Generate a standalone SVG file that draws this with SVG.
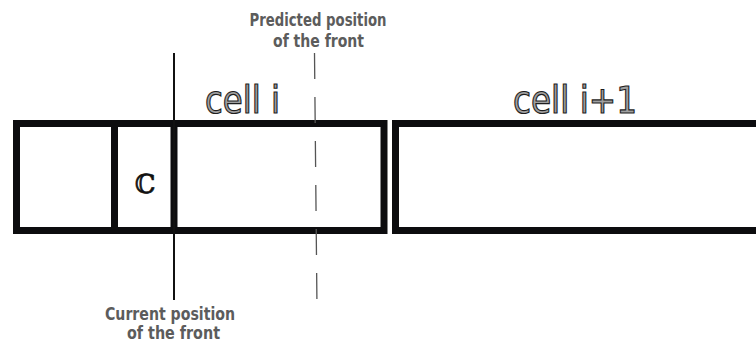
<svg xmlns="http://www.w3.org/2000/svg" width="756" height="347" viewBox="0 0 756 347">
  <style>
    .cell { fill: #ffffff; stroke: #0c0c0e; stroke-width: 7; }
    .wall { stroke: #0c0c0e; stroke-width: 7; }
    .front { stroke: #111111; stroke-width: 2; fill: none; }
    .predicted { stroke: #555555; stroke-width: 1.3; fill: none; stroke-dasharray: 26 18; }
    .caption { font-family: "DejaVu Sans Condensed", "DejaVu Sans", sans-serif; font-stretch: condensed; font-weight: bold; font-size: 17px; fill: #5c5c5c; text-anchor: middle; }
    .title { font-family: "DejaVu Sans Condensed", "DejaVu Sans", sans-serif; font-stretch: condensed; font-size: 37px; fill: #a0a0a0; stroke: #1e1e1e; stroke-width: 1.1; }
    .sym { font-family: "DejaVu Serif", serif; font-size: 26px; fill: #111111; stroke: #111111; stroke-width: 0.6; text-anchor: middle; }
  </style>

  <!-- cell i, split into its left part and the sub-cell c -->
  <g id="cell-i">
    <rect class="cell" x="16.5" y="123.5" width="367.5" height="107"/>
    <line class="wall" x1="114.5" y1="123.5" x2="114.5" y2="230.5"/>
    <text class="title" x="205" y="113" textLength="75" lengthAdjust="spacingAndGlyphs">cell i</text>
  </g>

  <g id="sub-cell-c">
    <text class="sym" x="145" y="193">ℂ</text>
  </g>

  <!-- cell i+1 runs off the right edge -->
  <g id="cell-i-plus-1">
    <rect class="cell" x="395.5" y="123.5" width="400" height="107"/>
    <text class="title" x="513" y="113" textLength="124" lengthAdjust="spacingAndGlyphs">cell i+1</text>
  </g>

  <!-- front markers -->
  <g id="connectors">
    <line class="wall" x1="174" y1="123.5" x2="174" y2="230.5"/>
    <line class="front" x1="174" y1="53" x2="174" y2="300"/>
    <line class="predicted" x1="314.5" y1="53" x2="317" y2="309"/>
  </g>

  <g id="label-predicted">
    <text class="caption" x="318" y="26" textLength="137" lengthAdjust="spacingAndGlyphs">Predicted position</text>
    <text class="caption" x="318.5" y="47" textLength="91" lengthAdjust="spacingAndGlyphs">of the front</text>
  </g>

  <g id="label-current">
    <text class="caption" x="170" y="320" textLength="130" lengthAdjust="spacingAndGlyphs">Current position</text>
    <text class="caption" x="173.5" y="339" textLength="93" lengthAdjust="spacingAndGlyphs">of the front</text>
  </g>
</svg>
